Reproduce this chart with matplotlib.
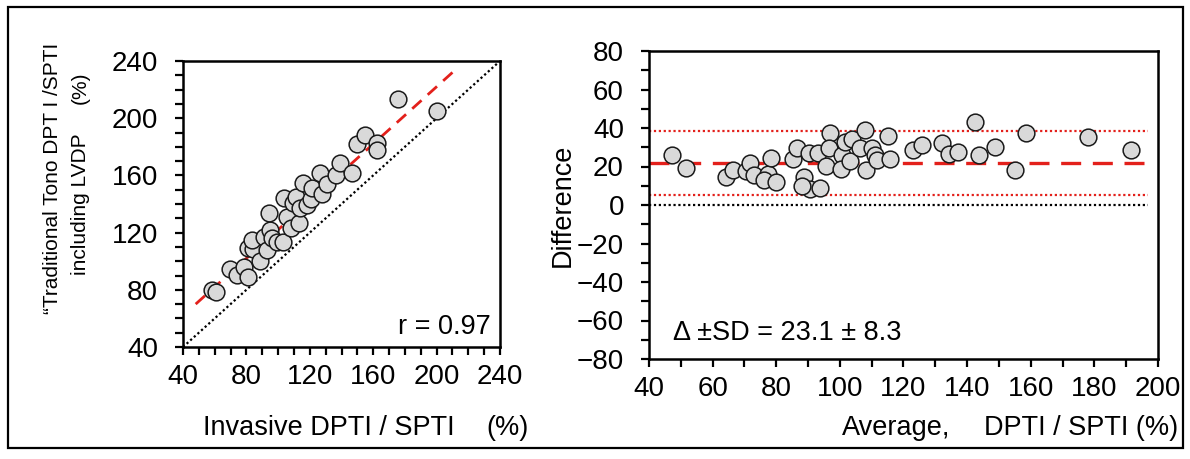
import matplotlib
matplotlib.use("Agg")
import matplotlib.pyplot as plt
from matplotlib.patches import Rectangle
from matplotlib.ticker import MultipleLocator
import numpy as np

plt.rcParams['font.family'] = ['Liberation Sans', 'DejaVu Sans']

# ---- Left panel: correlation ----
invasive = [58.3, 60.8, 69.4, 74.0, 78.6, 80.7, 80.7, 84.0, 83.4, 88.3, 90.8, 92.9,
            95.0, 96.1, 94.2, 99.2, 103.4, 105.5, 103.8, 108.4, 109.4, 111.1, 113.2,
            114.1, 115.6, 118.4, 120.6, 121.6, 126.5, 127.6, 130.7, 136.5, 139.1,
            146.5, 149.6, 154.9, 162.2, 162.6, 175.8, 200.0]
traditional = [79.9, 78.2, 94.3, 90.3, 96.2, 88.7, 109.0, 108.3, 114.8, 100.3, 117.1, 107.8,
               121.8, 116.0, 133.9, 113.6, 113.6, 131.1, 144.0, 123.0, 140.9, 145.1, 126.5,
               137.0, 154.9, 139.3, 143.3, 151.0, 161.5, 147.0, 154.0, 160.3, 168.9,
               161.5, 182.0, 188.3, 182.9, 177.8, 213.2, 205.0]
fit_x = [48, 210]
fit_slope = 1.0
fit_intercept = 22.0
identity = [40, 240]
r_text = "r = 0.97"

# ---- Right panel: Bland-Altman ----
ba_avg = [47.1, 51.6, 64.2, 66.3, 70.5, 71.8, 73.0, 77.5, 78.3, 76.3, 79.9, 85.4, 86.4,
          88.7, 90.6, 93.8, 88.0, 90.4, 93.2, 96.9, 96.6, 95.6, 100.6, 100.3, 101.6,
          103.7, 103.2, 107.9, 106.3, 108.2, 110.0, 111.0, 111.6, 115.1, 115.6,
          122.9, 125.7, 132.0, 134.4, 137.2, 142.5, 143.8, 148.8, 155.1, 158.5, 177.9, 191.4]
ba_diff = [26.0, 19.4, 14.7, 18.2, 17.8, 21.7, 15.6, 16.1, 24.3, 13.0, 12.1, 23.7, 29.4,
           14.7, 8.2, 8.7, 9.9, 26.9, 27.2, 37.2, 29.4, 20.3, 26.0, 18.5, 32.9,
           34.1, 23.0, 39.0, 29.4, 18.2, 29.4, 26.0, 23.4, 36.0, 23.7,
           28.6, 31.2, 32.0, 26.3, 27.7, 43.3, 26.0, 30.3, 18.2, 37.6, 35.2, 28.6]
ba_mean = 22.0
ba_upper = 38.3
ba_lower = 5.0
ba_zero = 0.0
ba_text = "\u0394 \u00b1SD = 23.1 \u00b1 8.3"

W, H = 1190, 459
fig = plt.figure(figsize=(W / 100, H / 100), dpi=100)
fig.patch.set_facecolor('white')

ax1 = fig.add_axes([183 / W, 1 - 347 / H, 317 / W, 286 / H])
ax2 = fig.add_axes([649 / W, 1 - 359 / H, 509 / W, 308 / H])

face = '#d9d9d9'
edge = '#1a1a1a'
red = '#e3201b'
msize = 145
tick_fs = 20
text_fs = 19.5

for ax in (ax1, ax2):
    for s in ax.spines.values():
        s.set_linewidth(1.8)
        s.set_color('black')
    ax.tick_params(which='both', direction='out', length=6, width=1.6,
                   labelsize=tick_fs, colors='black')
    ax.tick_params(axis='x', pad=6.5)
    ax.tick_params(axis='y', pad=12)

# Left
ax1.plot(identity, identity, color='black', lw=1.6, linestyle=(0, (1, 1.2)), zorder=2)
fx = np.array(fit_x, dtype=float)
ax1.plot(fx, fit_slope * fx + fit_intercept, color=red, lw=2.0,
         linestyle=(0, (4.5, 3)), zorder=2)
ax1.scatter(invasive, traditional, s=msize, facecolor=face, edgecolor=edge,
            linewidth=1.1, zorder=3)
ax1.set_xlim(40, 240)
ax1.set_ylim(40, 240)
ax1.xaxis.set_major_locator(MultipleLocator(40))
ax1.xaxis.set_minor_locator(MultipleLocator(10))
ax1.yaxis.set_major_locator(MultipleLocator(40))
ax1.yaxis.set_minor_locator(MultipleLocator(10))
ax1.text(234, 54, r_text, ha='right', va='center', fontsize=text_fs)

# Right
ax2.axhline(ba_zero, color='black', lw=1.6, linestyle=(0, (1, 1.2)), zorder=2,
            xmin=0.0, xmax=0.98)
ax2.axhline(ba_upper, color=red, lw=1.6, linestyle=(0, (1, 1.2)), zorder=2,
            xmin=0.0, xmax=0.98)
ax2.axhline(ba_lower, color=red, lw=1.6, linestyle=(0, (1, 1.2)), zorder=2,
            xmin=0.0, xmax=0.98)
ax2.axhline(ba_mean, color=red, lw=2.4, linestyle=(0, (6, 3.5)), zorder=2,
            xmin=0.0, xmax=0.98)
ax2.scatter(ba_avg, ba_diff, s=msize, facecolor=face, edgecolor=edge,
            linewidth=1.1, zorder=3)
ax2.set_xlim(40, 200)
ax2.set_ylim(-80, 80)
ax2.xaxis.set_major_locator(MultipleLocator(20))
ax2.xaxis.set_minor_locator(MultipleLocator(10))
ax2.yaxis.set_major_locator(MultipleLocator(20))
ax2.yaxis.set_minor_locator(MultipleLocator(10))
ax2.text(47.5, -66.5, ba_text, ha='left', va='center', fontsize=text_fs)

# Axis labels (placed as figure text)
def ft(x, y, s, **kw):
    fig.text(x / W, 1 - y / H, s, **kw)

ft(53, 178, "\u201cTraditional Tono DPT I /SPTI", rotation=90, ha='center', va='center', fontsize=15)
ft(80, 204, "including LVDP", rotation=90, ha='center', va='center', fontsize=15)
ft(80, 88, "(%)", rotation=90, ha='center', va='center', fontsize=15)
ft(563, 205, "Difference", rotation=90, ha='center', va='center', fontsize=text_fs)
ft(329, 428, "Invasive DPTI / SPTI", ha='center', va='center', fontsize=text_fs)
ft(508, 428, "(%)", ha='center', va='center', fontsize=text_fs)
ft(896, 428, "Average,", ha='center', va='center', fontsize=text_fs)
ft(1081, 428, "DPTI / SPTI (%)", ha='center', va='center', fontsize=text_fs)

# Outer frame
fig.add_artist(Rectangle((8 / W, 1 - 448 / H), 1175 / W, 441 / H,
                         transform=fig.transFigure, fill=False,
                         edgecolor='black', linewidth=1.6))

fig.savefig("out.png", dpi=100, facecolor='white')
